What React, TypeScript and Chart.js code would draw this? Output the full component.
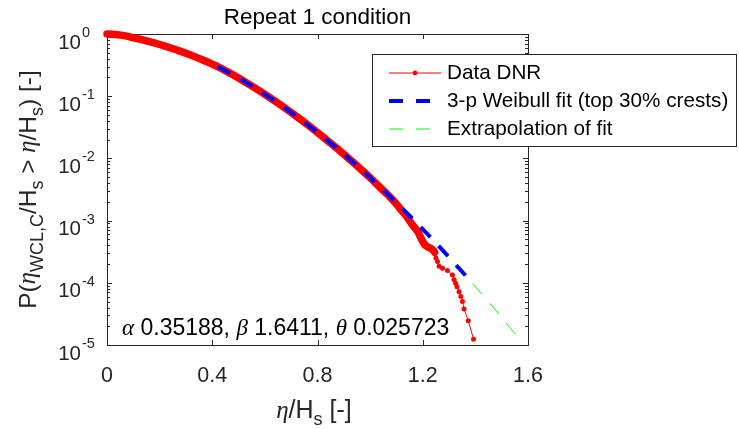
import React, { useEffect, useRef } from "react";
import { Chart, registerables } from "chart.js";
Chart.register(...registerables);

const W = 739;
const H = 429;

// Measured exceedance probability (Data DNR)
const dataX = [0, 0.02, 0.04, 0.06, 0.08, 0.10, 0.12, 0.14, 0.16, 0.18, 0.20, 0.22, 0.24, 0.26, 0.28, 0.30, 0.32, 0.34, 0.36, 0.38, 0.40, 0.42, 0.44, 0.46, 0.48, 0.50, 0.52, 0.54, 0.56, 0.58, 0.60, 0.62, 0.64, 0.66, 0.68, 0.70, 0.72, 0.74, 0.76, 0.78, 0.80, 0.82, 0.84, 0.86, 0.88, 0.90, 0.92, 0.94, 0.96, 0.98, 1.00, 1.02, 1.04, 1.06, 1.08, 1.10, 1.12, 1.14, 1.16, 1.18, 1.20, 1.21, 1.22, 1.23, 1.24, 1.245, 1.25, 1.256, 1.262, 1.275, 1.294, 1.313, 1.319, 1.325, 1.330, 1.338, 1.345, 1.351, 1.357, 1.373, 1.393];
const dataP = [1.0, 0.992, 0.975, 0.951, 0.914, 0.870, 0.833, 0.795, 0.756, 0.717, 0.678, 0.639, 0.600, 0.563, 0.526, 0.490, 0.455, 0.421, 0.389, 0.358, 0.328, 0.300, 0.2706, 0.2436, 0.2186, 0.1955, 0.1744, 0.1550, 0.1374, 0.1215, 0.1071, 0.0941, 0.0825, 0.0721, 0.0628, 0.0546, 0.0474, 0.0409, 0.0353, 0.0304, 0.0260, 0.0223, 0.0190, 0.0162, 0.0138, 0.01164, 0.00984, 0.0083, 0.00698, 0.00585, 0.0049, 0.00405, 0.00335, 0.00278, 0.00228, 0.00185, 0.00145, 0.00115, 0.00086, 0.00068, 0.00046, 0.0004, 0.000375, 0.00036, 0.000335, 0.00031, 0.00025, 0.00022, 0.000185, 0.000172, 0.000158, 0.000134, 0.000112, 0.000098, 0.000086, 0.000072, 0.00006, 0.00005, 0.000038, 0.0000245, 0.0000124];

// 3-parameter Weibull fit (top 30% crests)
const fitX = [0.42, 0.46, 0.50, 0.54, 0.58, 0.62, 0.66, 0.70, 0.74, 0.78, 0.82, 0.86, 0.90, 0.94, 0.98, 1.02, 1.06, 1.10, 1.15, 1.20, 1.25, 1.30, 1.35, 1.39];
const fitP = [0.2996, 0.2436, 0.1955, 0.1550, 0.1215, 0.09413, 0.07208, 0.05461, 0.04094, 0.03035, 0.02228, 0.01619, 0.011644, 0.008297, 0.005854, 0.004089, 0.002829, 0.001942, 0.001196, 0.000727, 0.000436, 0.0002576, 0.0001504, 0.0000968];

// Extrapolation of fit
const extX = [1.39, 1.45, 1.50, 1.53, 1.57];
const extP = [0.0000968, 0.0000493, 0.0000276, 0.0000194, 0.0000120];

const xTicks = [0, 0.4, 0.8, 1.2, 1.6];
const xTickLabels = ["0", "0.4", "0.8", "1.2", "1.6"];
const yTickExps = [0, -1, -2, -3, -4, -5];

const titleText = "Repeat 1 condition";
const legendLabels = ["Data DNR", "3-p Weibull fit (top 30% crests)", "Extrapolation of fit"];
const paramText = { alpha: "0.35188", beta: "1.6411", theta: "0.025723" };

const SANS = '"Liberation Sans", Arial, sans-serif';
const SERIF = '"Liberation Serif", "DejaVu Serif", serif';
const AX = "#262626";

type Seg = { t: string; greek?: boolean; sub?: boolean; sup?: boolean };

function segFont(s: Seg, size: number) {
  const sz = s.sub || s.sup ? Math.round(size * 0.72) : size;
  return s.greek ? `italic ${sz}px ${SERIF}` : `${sz}px ${SANS}`;
}
function richWidth(ctx: CanvasRenderingContext2D, segs: Seg[], size: number) {
  let w = 0;
  for (const s of segs) {
    ctx.font = segFont(s, size);
    w += ctx.measureText(s.t).width;
  }
  return w;
}
function drawRich(ctx: CanvasRenderingContext2D, segs: Seg[], x: number, y: number, size: number, align: "left" | "center" | "right") {
  const w = richWidth(ctx, segs, size);
  let cx = align === "center" ? x - w / 2 : align === "right" ? x - w : x;
  ctx.textAlign = "left";
  ctx.textBaseline = "middle";
  for (const s of segs) {
    ctx.font = segFont(s, size);
    const off = s.sub ? size * 0.38 : s.sup ? -size * 0.45 : 0;
    ctx.fillText(s.t, cx, y + off);
    cx += ctx.measureText(s.t).width;
  }
}

const matlabPlugin = {
  id: "matlabAxes",
  beforeDatasetsDraw(chart: any) {
    const { ctx, chartArea: a, scales } = chart;
    const xs = scales.x;
    const ys = scales.y;
    ctx.save();
    ctx.strokeStyle = AX;
    ctx.lineWidth = 1;
    ctx.beginPath();
    for (const v of xTicks) {
      const px = Math.round(xs.getPixelForValue(v)) + 0.5;
      ctx.moveTo(px, a.bottom);
      ctx.lineTo(px, a.bottom - 5);
      ctx.moveTo(px, a.top);
      ctx.lineTo(px, a.top + 5);
    }
    for (const e of yTickExps) {
      const py = Math.round(ys.getPixelForValue(Math.pow(10, e))) + 0.5;
      ctx.moveTo(a.left, py);
      ctx.lineTo(a.left + 5, py);
      ctx.moveTo(a.right, py);
      ctx.lineTo(a.right - 5, py);
      if (e < 0) {
        for (let m = 2; m <= 9; m++) {
          const pm = Math.round(ys.getPixelForValue(m * Math.pow(10, e))) + 0.5;
          ctx.moveTo(a.left, pm);
          ctx.lineTo(a.left + 3, pm);
          ctx.moveTo(a.right, pm);
          ctx.lineTo(a.right - 3, pm);
        }
      }
    }
    ctx.stroke();
    ctx.strokeRect(Math.round(a.left) + 0.5, Math.round(a.top) + 0.5, Math.round(a.right - a.left), Math.round(a.bottom - a.top));
    ctx.restore();
  },
  afterDatasetsDraw(chart: any) {
    const { ctx, chartArea: a, scales } = chart;
    const xs = scales.x;
    const ys = scales.y;
    ctx.save();
    ctx.fillStyle = AX;
    // x tick labels
    ctx.font = `21.5px ${SANS}`;
    ctx.textAlign = "center";
    ctx.textBaseline = "middle";
    xTicks.forEach((v, i) => {
      ctx.fillText(xTickLabels[i], xs.getPixelForValue(v), a.bottom + 31);
    });
    // y tick labels 10^e
    for (const e of yTickExps) {
      const py = ys.getPixelForValue(Math.pow(10, e));
      ctx.font = `20.5px ${SANS}`;
      ctx.textAlign = "right";
      ctx.textBaseline = "middle";
      ctx.fillText("10", a.left - 26, py + 9);
      ctx.font = `14.5px ${SANS}`;
      ctx.textAlign = "left";
      ctx.fillText(e === 0 ? "0" : `-${-e}`, a.left - 25, py - 1);
    }
    // x axis label
    drawRich(ctx, [{ t: "η", greek: true }, { t: "/H" }, { t: "s", sub: true }, { t: " [-]" }], 314, a.bottom + 66, 25, "center");
    // y axis label (rotated)
    ctx.save();
    ctx.translate(29, (a.top + a.bottom) / 2);
    ctx.rotate(-Math.PI / 2);
    drawRich(ctx, [
      { t: "P(" }, { t: "η", greek: true }, { t: "WCL,C", sub: true }, { t: "/H" }, { t: "s", sub: true },
      { t: " > " }, { t: "η", greek: true }, { t: "/H" }, { t: "s", sub: true }, { t: ") [-]" },
    ], 0, 0, 24.5, "center");
    ctx.restore();
    // title
    ctx.fillStyle = "#000000";
    ctx.font = `22.5px ${SANS}`;
    ctx.textAlign = "center";
    ctx.textBaseline = "middle";
    ctx.fillText(titleText, (a.left + a.right) / 2, 18);
    // parameter annotation
    drawRich(ctx, [
      { t: "α", greek: true }, { t: " " + paramText.alpha + ", " },
      { t: "β", greek: true }, { t: " " + paramText.beta + ", " },
      { t: "θ", greek: true }, { t: " " + paramText.theta },
    ], a.left + 15, a.bottom - 16, 23, "left");
    // legend
    const lx = 372.5, ly = 54.5, lw = 364, lh = 92;
    ctx.fillStyle = "#ffffff";
    ctx.fillRect(lx, ly, lw, lh);
    ctx.strokeStyle = AX;
    ctx.lineWidth = 1;
    ctx.setLineDash([]);
    ctx.strokeRect(lx, ly, lw, lh);
    const rows = [73, 101, 129];
    const x0 = 389, x1 = 441;
    ctx.strokeStyle = "#ff0000";
    ctx.lineWidth = 1;
    ctx.beginPath();
    ctx.moveTo(x0, rows[0]);
    ctx.lineTo(x1, rows[0]);
    ctx.stroke();
    ctx.fillStyle = "#ff0000";
    ctx.beginPath();
    ctx.arc((x0 + x1) / 2, rows[0], 2.4, 0, Math.PI * 2);
    ctx.fill();
    ctx.strokeStyle = "#0000ff";
    ctx.lineWidth = 4;
    ctx.setLineDash([14, 13]);
    ctx.beginPath();
    ctx.moveTo(x0, rows[1]);
    ctx.lineTo(x1, rows[1]);
    ctx.stroke();
    ctx.strokeStyle = "#00ff00";
    ctx.lineWidth = 1;
    ctx.beginPath();
    ctx.moveTo(x0, rows[2]);
    ctx.lineTo(x1, rows[2]);
    ctx.stroke();
    ctx.setLineDash([]);
    ctx.fillStyle = "#000000";
    ctx.font = `20.7px ${SANS}`;
    ctx.textAlign = "left";
    ctx.textBaseline = "middle";
    legendLabels.forEach((t, i) => ctx.fillText(t, 447, rows[i]));
    ctx.restore();
  },
};

export default function App() {
  const ref = useRef<HTMLCanvasElement>(null);
  useEffect(() => {
    document.body.style.margin = "0";
    const chart = new Chart(ref.current as HTMLCanvasElement, {
      type: "line",
      data: {
        datasets: [
          {
            label: legendLabels[1],
            data: fitX.map((x, i) => ({ x, y: fitP[i] })),
            borderColor: "#0000ff",
            borderWidth: 4,
            borderDash: [14, 12],
            pointRadius: 0,
            fill: false,
            order: 1,
          },
          {
            label: legendLabels[2],
            data: extX.map((x, i) => ({ x, y: extP[i] })),
            borderColor: "#00ff00",
            borderWidth: 1,
            borderDash: [14, 12],
            pointRadius: 0,
            fill: false,
            order: 2,
          },
          {
            label: legendLabels[0],
            data: dataX.map((x, i) => ({ x, y: dataP[i] })),
            borderColor: "#ff0000",
            backgroundColor: "#ff0000",
            borderWidth: 1,
            borderCapStyle: "round",
            borderJoinStyle: "round",
            segment: {
              borderWidth: (c: any) => (c.p1.parsed.x <= 1.245 ? 7.5 : 1),
            },
            pointRadius: (c: any) => (c.parsed && c.parsed.x >= 1.245 ? 2.5 : 0),
            pointBorderWidth: 0,
            pointBackgroundColor: "#ff0000",
            fill: false,
            clip: 8,
            order: 3,
          } as any,
        ],
      },
      options: {
        responsive: false,
        animation: false,
        layout: { padding: { left: 107, top: 34, right: 211, bottom: 84 } },
        plugins: { legend: { display: false }, tooltip: { enabled: false }, title: { display: false } },
        scales: {
          x: {
            type: "linear",
            min: 0,
            max: 1.6,
            ticks: { display: false },
            grid: { display: false },
            border: { display: false },
            afterFit: (s: any) => { s.height = 0; },
          },
          y: {
            type: "logarithmic",
            min: 1e-5,
            max: 1,
            ticks: { display: false },
            grid: { display: false },
            border: { display: false },
            afterFit: (s: any) => { s.width = 0; },
          },
        },
      } as any,
      plugins: [matlabPlugin],
    });
    return () => chart.destroy();
  }, []);
  return (
    <div style={{ width: W, height: H }}>
      <canvas ref={ref} width={W} height={H} style={{ display: "block", width: W, height: H }} />
    </div>
  );
}
